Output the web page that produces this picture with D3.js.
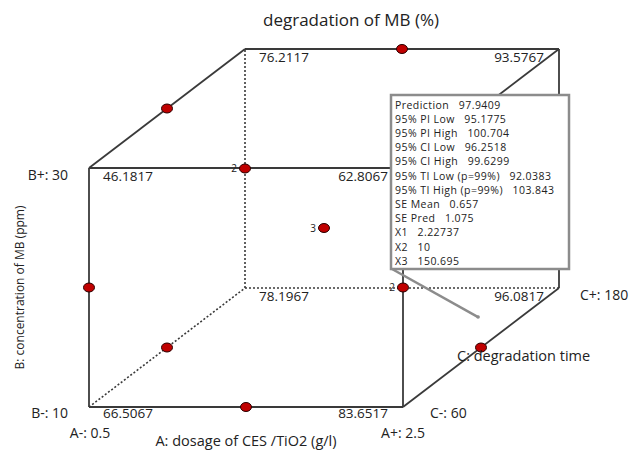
<!DOCTYPE html>
<html>
<head>
<meta charset="utf-8">
<script src="https://cdn.jsdelivr.net/npm/d3@7/dist/d3.min.js"></script>
<style>
body { margin: 0; background: #fff; }
svg text { font-family: "Open Sans", "Noto Sans", sans-serif; fill: #222; }
</style>
</head>
<body>
<div id="chart"></div>
<script>
// factor ranges (real units)
var rangeA = [0.5, 2.5], rangeB = [10, 30], rangeC = [60, 180];
var title = "degradation of MB (%)";
var axisNames = ["A: dosage of CES /TiO2 (g/l)", "B: concentration of MB (ppm)", "C: degradation time"];

// cube corners, coded units, with predicted response
var cornerA = [-1, 1, -1, 1, -1, 1, -1, 1];
var cornerB = [-1, -1, 1, 1, -1, -1, 1, 1];
var cornerC = [-1, -1, -1, -1, 1, 1, 1, 1];
var cornerVal = ["66.5067", "83.6517", "46.1817", "62.8067", "78.1967", "96.0817", "76.2117", "93.5767"];

// design runs (Box-Behnken), coded units
var runA = [-1, 1, -1, 1, -1, 1, -1, 1, 0, 0, 0, 0, 0, 0, 0];
var runB = [-1, -1, 1, 1, 0, 0, 0, 0, -1, 1, -1, 1, 0, 0, 0];
var runC = [0, 0, 0, 0, -1, -1, 1, 1, -1, -1, 1, 1, 0, 0, 0];

// prediction box
var predLabels = ["Prediction", "95% PI Low", "95% PI High", "95% CI Low", "95% CI High",
  "95% TI Low (p=99%)", "95% TI High (p=99%)", "SE Mean", "SE Pred", "X1", "X2", "X3"];
var predValues = ["97.9409", "95.1775", "100.704", "96.2518", "99.6299",
  "92.0383", "103.843", "0.657", "1.075", "2.22737", "10", "150.695"];
var predPoint = [2.22737, 10, 150.695];

var W = 642, H = 453;

var svg = d3.select("#chart").append("svg")
    .attr("width", W)
    .attr("height", H);

// scales: A -> x of front face, B -> y of front face, C -> depth offset
var xA = d3.scaleLinear().domain([-1, 1]).range([89, 403]),
    yB = d3.scaleLinear().domain([-1, 1]).range([407, 168]),
    cX = d3.scaleLinear().domain([-1, 1]).range([0, 156]),
    cY = d3.scaleLinear().domain([-1, 1]).range([0, -119]);

var codeA = d3.scaleLinear().domain(rangeA).range([-1, 1]),
    codeB = d3.scaleLinear().domain(rangeB).range([-1, 1]),
    codeC = d3.scaleLinear().domain(rangeC).range([-1, 1]);

function px(a, b, c) { return xA(a) + cX(c); }
function py(a, b, c) { return yB(b) + cY(c); }

// edges: [a1,b1,c1,a2,b2,c2,hidden]
var edges = [
  [-1, -1, -1, 1, -1, -1, 0], [-1, 1, -1, 1, 1, -1, 0],
  [-1, -1, -1, -1, 1, -1, 0], [1, -1, -1, 1, 1, -1, 0],
  [-1, 1, 1, 1, 1, 1, 0], [1, -1, 1, 1, 1, 1, 0],
  [-1, 1, -1, -1, 1, 1, 0], [1, 1, -1, 1, 1, 1, 0], [1, -1, -1, 1, -1, 1, 0],
  [-1, -1, 1, 1, -1, 1, 1], [-1, -1, 1, -1, 1, 1, 1], [-1, -1, -1, -1, -1, 1, 1]
];

svg.append("g").selectAll("line")
    .data(edges)
    .enter().append("line")
    .attr("x1", function(d) { return px(d[0], d[1], d[2]); })
    .attr("y1", function(d) { return py(d[0], d[1], d[2]); })
    .attr("x2", function(d) { return px(d[3], d[4], d[5]); })
    .attr("y2", function(d) { return py(d[3], d[4], d[5]); })
    .attr("stroke", "#3a3a3a")
    .attr("stroke-width", function(d) { return d[6] ? 1.6 : 1.8; })
    .attr("stroke-dasharray", function(d) { return d[6] ? "2,2" : null; });

// corner values
svg.append("g").selectAll("text")
    .data(cornerVal)
    .enter().append("text")
    .attr("x", function(d, i) { return px(cornerA[i], cornerB[i], cornerC[i]) + (cornerA[i] < 0 ? 14 : -15); })
    .attr("y", function(d, i) { return py(cornerA[i], cornerB[i], cornerC[i]) + (cornerB[i] < 0 && cornerC[i] < 0 ? 6 : 8); })
    .attr("dy", "0.35em")
    .attr("text-anchor", function(d, i) { return cornerA[i] < 0 ? "start" : "end"; })
    .style("font-size", "13.5px")
    .text(function(d) { return d; });

// design points, grouped where they overlap on screen
var runs = runA.map(function(a, i) {
  return { x: px(a, runB[i], runC[i]), y: py(a, runB[i], runC[i]) };
});
var groups = [];
runs.forEach(function(r) {
  var g = groups.find(function(g) { return Math.abs(g.x - r.x) < 3 && Math.abs(g.y - r.y) < 3; });
  if (g) g.n++;
  else groups.push({ x: r.x, y: r.y, n: 1 });
});

svg.append("g").selectAll("ellipse")
    .data(groups)
    .enter().append("ellipse")
    .attr("cx", function(d) { return d.x; })
    .attr("cy", function(d) { return d.y; })
    .attr("rx", 5.5)
    .attr("ry", 4.5)
    .attr("fill", "#c00000")
    .attr("stroke", "#2a0000")
    .attr("stroke-width", 1);

svg.append("g").selectAll("text")
    .data(groups.filter(function(d) { return d.n > 1; }))
    .enter().append("text")
    .attr("x", function(d) { return d.x - 8; })
    .attr("y", function(d) { return d.y; })
    .attr("dy", "0.35em")
    .attr("text-anchor", "end")
    .style("font-size", "10px")
    .text(function(d) { return d.n; });

// factor level labels
function lab(t, x, y, anchor, size) {
  return svg.append("text")
      .attr("x", x).attr("y", y).attr("dy", "0.35em")
      .attr("text-anchor", anchor)
      .style("font-size", (size || 14) + "px")
      .text(t);
}
lab("B+: " + rangeB[1], xA(-1) - 21, yB(1) + 7, "end");
lab("B-: " + rangeB[0], xA(-1) - 21, yB(-1) + 6, "end");
lab("A-: " + rangeA[0], xA(-1) + 1, yB(-1) + 26, "middle");
lab("A+: " + rangeA[1], xA(1), yB(-1) + 26, "middle");
lab("C-: " + rangeC[0], xA(1) + 27, yB(-1) + 6, "start");
lab("C+: " + rangeC[1], xA(1) + cX(1) + 21, yB(-1) + cY(1) + 7, "start");

// axis titles
lab(axisNames[0], (xA(-1) + xA(1)) / 2, yB(-1) + 34, "middle", 14.5);
lab(axisNames[2], xA(1) + cX(0) - 24, yB(-1) + cY(0) + 8, "start", 14.5);
svg.append("text")
    .attr("transform", "translate(20," + ((yB(-1) + yB(1)) / 2) + ") rotate(-90)")
    .attr("dy", "0.35em")
    .attr("text-anchor", "middle")
    .style("font-size", "12px")
    .text(axisNames[1]);

lab(title, 351, 20, "middle", 17);

// prediction box
var bx = 391, by = 95, bw = 178, bh = 174, lh = 14.2;
svg.append("rect")
    .attr("x", bx).attr("y", by)
    .attr("width", bw).attr("height", bh)
    .attr("fill", "#fff")
    .attr("stroke", "#8c8c8c")
    .attr("stroke-width", 2.5);

svg.append("g").selectAll("text")
    .data(predLabels)
    .enter().append("text")
    .attr("x", bx + 4)
    .attr("y", function(d, i) { return by + 10 + i * lh; })
    .attr("dy", "0.35em")
    .style("font-size", "10.5px")
    .style("letter-spacing", "0.45px")
    .style("white-space", "pre")
    .text(function(d, i) { return d + "   " + predValues[i]; });

// leader to predicted point
var pa = codeA(predPoint[0]), pb = codeB(predPoint[1]), pc = codeC(predPoint[2]);
svg.append("line")
    .attr("x1", bx + 1).attr("y1", by + bh)
    .attr("x2", px(pa, pb, pc)).attr("y2", py(pa, pb, pc))
    .attr("stroke", "#8c8c8c")
    .attr("stroke-width", 2.5);
svg.append("circle")
    .attr("cx", px(pa, pb, pc)).attr("cy", py(pa, pb, pc))
    .attr("r", 1.8)
    .attr("fill", "#8c8c8c");
</script>
</body>
</html>
